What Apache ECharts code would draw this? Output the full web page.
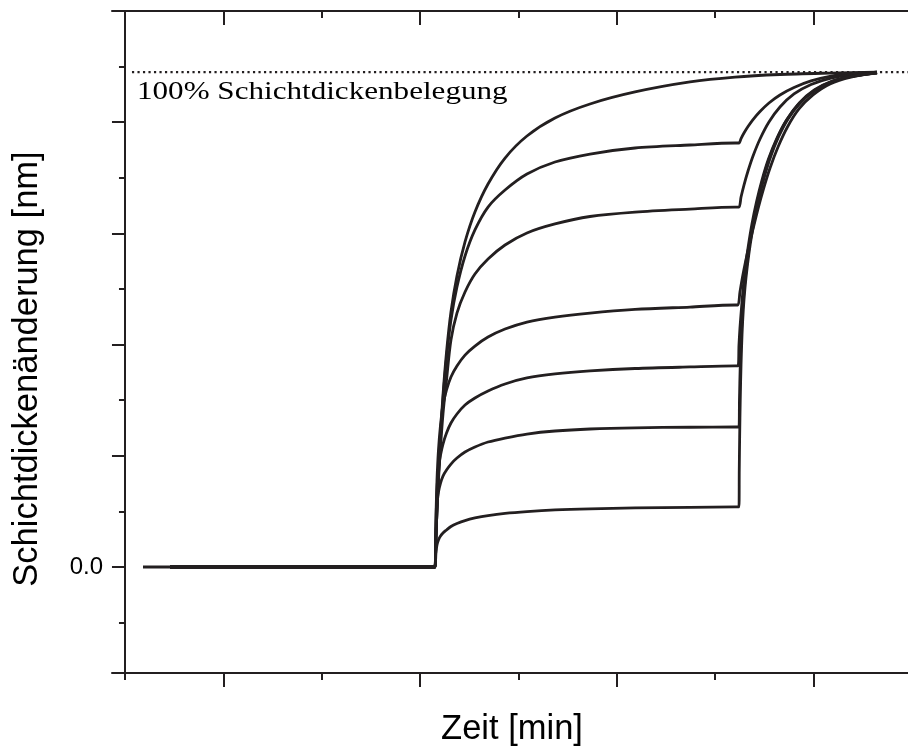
<!DOCTYPE html>
<html><head><meta charset="utf-8">
<script src="https://cdn.jsdelivr.net/npm/echarts@6/dist/echarts.min.js"></script>
<style>html,body{margin:0;padding:0;background:#fff}#c{width:908px;height:756px}</style>
</head><body><div id="c"></div>
<script>
const ink = '#231f20';
const xMin = -1.32, xMax = 79.63, yMin = -0.953, yMax = 5.0;
const xMajorTicks = [10, 30, 50, 70];
const xMinorTicks = [0, 20, 40, 60];
const yMajorTicks = [0, 1, 2, 3, 4];
const yMinorTicks = [-0.5, 0.5, 1.5, 2.5, 3.5, 4.5];
const yLabelTicks = [0];
const fullLevel = 4.45;
const fullLine = [[0.71, fullLevel], [xMax, fullLevel]];

const curve1 = [[1.83,0],[31.43,0],[31.53,0],[31.63,0.270],[31.73,0.513],[31.88,0.827],[32.09,1.187],[32.34,1.547],[32.70,1.933],[33.15,2.293],[33.76,2.617],[34.58,2.923],[35.59,3.192],[36.92,3.444],[38.65,3.678],[40.88,3.876],[43.73,4.038],[47.29,4.164],[51.87,4.272],[57.46,4.362],[62.04,4.406],[66.61,4.429],[71.70,4.442],[76.48,4.451]];
const curve2 = [[4.58,0],[31.43,0],[31.53,0],[31.63,0.270],[31.73,0.513],[31.88,0.818],[32.09,1.169],[32.34,1.511],[32.70,1.879],[33.15,2.221],[33.76,2.518],[34.58,2.797],[35.59,3.031],[36.92,3.237],[38.65,3.390],[40.88,3.534],[43.73,3.642],[47.29,3.714],[51.87,3.768],[57.46,3.795],[62.04,3.813],[62.44,3.813],[62.65,3.853],[62.95,3.903],[63.36,3.961],[63.87,4.024],[64.58,4.096],[65.49,4.173],[66.61,4.245],[68.04,4.312],[69.77,4.371],[71.80,4.415],[74.04,4.438],[76.48,4.451]];
const curve3 = [[4.58,0],[31.43,0],[31.53,0],[31.63,0.270],[31.73,0.504],[31.88,0.782],[32.09,1.079],[32.34,1.376],[32.70,1.682],[33.15,2.041],[33.76,2.284],[34.58,2.473],[35.59,2.635],[36.92,2.770],[38.65,2.896],[40.88,3.004],[43.73,3.085],[47.29,3.152],[51.87,3.192],[57.46,3.219],[62.04,3.237],[62.44,3.237],[62.65,3.327],[62.95,3.435],[63.36,3.561],[63.87,3.696],[64.58,3.849],[65.49,4.002],[66.61,4.137],[68.04,4.254],[69.77,4.339],[71.80,4.397],[74.04,4.429],[76.48,4.451]];
const curve4 = [[4.58,0],[31.43,0],[31.53,0],[31.63,0.468],[31.73,0.782],[31.88,1.052],[32.09,1.277],[32.34,1.457],[32.70,1.592],[33.15,1.709],[33.76,1.808],[34.58,1.906],[35.59,1.987],[36.92,2.068],[38.65,2.140],[40.88,2.203],[43.73,2.248],[47.29,2.284],[51.87,2.316],[57.46,2.338],[62.04,2.356],[62.34,2.356],[62.54,2.473],[62.80,2.608],[63.10,2.743],[63.46,2.887],[63.87,3.040],[64.37,3.219],[64.93,3.399],[65.60,3.588],[66.41,3.777],[67.37,3.957],[68.54,4.119],[69.97,4.245],[71.70,4.344],[73.83,4.406],[76.48,4.447]];
const curve5 = [[4.58,0],[31.43,0],[31.53,0],[31.63,0.405],[31.73,0.692],[31.88,0.890],[32.09,1.007],[32.34,1.106],[32.70,1.205],[33.15,1.295],[33.76,1.376],[34.58,1.457],[35.59,1.520],[36.92,1.583],[38.65,1.646],[40.88,1.700],[43.73,1.736],[47.29,1.763],[51.87,1.785],[57.46,1.799],[62.04,1.808],[62.34,1.808],[62.44,1.996],[62.54,2.149],[62.68,2.311],[62.85,2.491],[63.08,2.689],[63.39,2.887],[63.76,3.085],[64.22,3.282],[64.78,3.480],[65.44,3.669],[66.26,3.849],[67.22,4.011],[68.44,4.155],[69.97,4.272],[71.80,4.362],[73.88,4.411],[76.48,4.447]];
const curve6 = [[4.58,0],[31.43,0],[31.53,0],[31.63,0.333],[31.73,0.549],[31.88,0.674],[32.09,0.755],[32.34,0.818],[32.70,0.872],[33.15,0.926],[33.76,0.980],[34.58,1.034],[35.59,1.079],[36.92,1.124],[38.65,1.160],[40.88,1.196],[43.73,1.223],[47.29,1.241],[51.87,1.252],[57.46,1.257],[62.04,1.259],[62.44,1.259],[62.49,1.502],[62.57,1.817],[62.68,2.086],[62.81,2.311],[62.98,2.509],[63.22,2.707],[63.52,2.905],[63.90,3.103],[64.35,3.300],[64.91,3.498],[65.57,3.687],[66.39,3.867],[67.35,4.029],[68.57,4.173],[70.10,4.290],[71.93,4.371],[73.99,4.415],[76.48,4.442]];
const curve7 = [[4.58,0],[31.43,0],[31.53,0],[31.63,0.135],[31.73,0.198],[31.88,0.243],[32.09,0.279],[32.34,0.306],[32.70,0.333],[33.15,0.364],[33.76,0.391],[34.58,0.418],[35.59,0.441],[36.92,0.463],[38.65,0.483],[40.88,0.499],[43.73,0.513],[47.29,0.523],[51.87,0.531],[57.46,0.537],[62.04,0.540],[62.44,0.540],[62.47,0.872],[62.51,1.169],[62.57,1.502],[62.65,1.817],[62.75,2.086],[62.88,2.311],[63.05,2.509],[63.29,2.707],[63.59,2.905],[63.97,3.103],[64.43,3.300],[64.99,3.498],[65.65,3.687],[66.46,3.867],[67.43,4.029],[68.65,4.173],[70.17,4.290],[72.00,4.371],[74.04,4.415],[76.48,4.442]];
const curves = [curve1, curve2, curve3, curve4, curve5, curve6, curve7];

const axisLineStyle = { color: ink, width: 2 };
function xAx(pos, ticks, len, inside, showLine) {
  return { type: 'value', position: pos, min: xMin, max: xMax,
    axisLine: { show: showLine, onZero: false, lineStyle: axisLineStyle },
    axisTick: { show: true, customValues: ticks, length: len, inside: inside, lineStyle: axisLineStyle },
    axisLabel: { show: false }, splitLine: { show: false } };
}
function yAx(ticks, len, showLabel) {
  return { type: 'value', position: 'left', min: yMin, max: yMax,
    axisLine: { show: true, onZero: true, onZeroAxisIndex: 0, lineStyle: axisLineStyle },
    axisTick: { show: true, customValues: ticks, length: len, lineStyle: axisLineStyle },
    axisLabel: { show: showLabel, customValues: yLabelTicks, margin: 9, color: '#000',
      fontFamily: 'Liberation Sans', fontSize: 24, padding: [8, 0, 0, 0], formatter: v => v.toFixed(1) },
    splitLine: { show: false } };
}

const chart = echarts.init(document.getElementById('c'), null, { renderer: 'canvas' });
chart.setOption({
  animation: false,
  backgroundColor: '#fff',
  grid: { left: 112, right: 0, top: 11, bottom: 83, containLabel: false, outerBoundsMode: 'none' },
  xAxis: [xAx('bottom', xMajorTicks, 14, false, true), xAx('bottom', xMinorTicks, 7, false, false),
          xAx('top', xMajorTicks, 14, true, true), xAx('top', xMinorTicks.slice(1), 7, true, false)],
  yAxis: [yAx(yMajorTicks, 13, true), yAx(yMinorTicks, 6, false)],
  series: [
    { type: 'line', data: fullLine, symbol: 'none', silent: true,
      lineStyle: { color: ink, width: 2.4, type: [2.2, 3.3], cap: 'butt' } }
  ].concat(curves.map(d => ({ type: 'line', data: d, symbol: 'none', smooth: 0.3, silent: true,
      lineStyle: { color: ink, width: 2.8, join: 'round' } }))),
  graphic: [
    { type: 'text', x: 27, y: 369, rotation: Math.PI / 2,
      style: { text: 'Schichtdickenänderung [nm]', fill: '#000', font: '34.5px "Liberation Sans"', align: 'center', verticalAlign: 'middle' } },
    { type: 'text', x: 512, y: 729,
      style: { text: 'Zeit [min]', fill: '#000', font: '34.5px "Liberation Sans"', align: 'center', verticalAlign: 'middle' } },
    { type: 'text', x: 137, y: 92, scaleX: 1.22,
      style: { text: '100% Schichtdickenbelegung', fill: '#000', font: '25.5px "Liberation Serif"', align: 'left', verticalAlign: 'middle' } }
  ]
});
</script></body></html>
